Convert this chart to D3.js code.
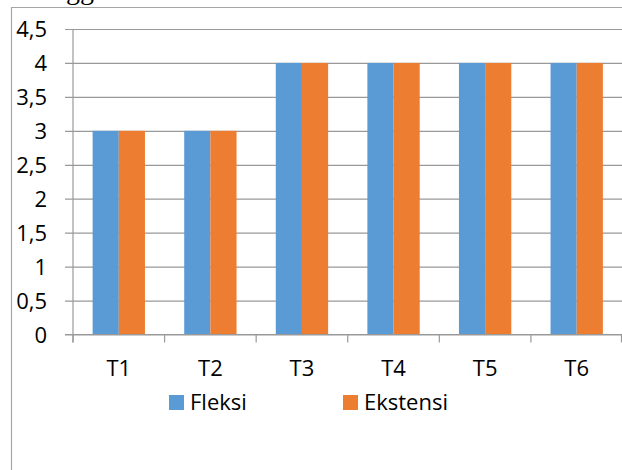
<!DOCTYPE html>
<html>
<head>
<meta charset="utf-8">
<script src="https://cdn.jsdelivr.net/npm/d3@7"></script>
<style>
  html, body { margin: 0; padding: 0; background: #fff; }
  svg { display: block; }
  text { font-family: "Open Sans", Lato, sans-serif; fill: #000; }
</style>
</head>
<body>
<svg id="chart" width="622" height="470"></svg>
<script>
// Chart data
const categories = ["T1", "T2", "T3", "T4", "T5", "T6"];
const seriesNames = ["Fleksi", "Ekstensi"];
const fleksi = [3, 3, 4, 4, 4, 4];
const ekstensi = [3, 3, 4, 4, 4, 4];
const yTicks = [0, 0.5, 1, 1.5, 2, 2.5, 3, 3.5, 4, 4.5];
const yTickLabels = ["0", "0,5", "1", "1,5", "2", "2,5", "3", "3,5", "4", "4,5"];
const colors = ["#5B9BD5", "#ED7D31"];

const svg = d3.select("#chart");
const W = 622, H = 470;
const plot = { left: 73, right: 622.5, top: 29, bottom: 334.5 };
const fontSize = "22px";

// Text running in from the surrounding page, above the chart frame
svg.append("text")
  .attr("x", 66).attr("y", -1)
  .style("font-family", "'Liberation Serif', 'DejaVu Serif', serif")
  .style("font-size", "28px")
  .text("gg");

// Chart frame (left and top edges visible)
svg.append("path")
  .attr("d", `M11.5,${H} L11.5,7.5 L${W},7.5`)
  .attr("fill", "none")
  .attr("stroke", "#a6a6a6")
  .attr("stroke-width", 1.2);

const x0 = d3.scaleBand().domain(categories).range([plot.left, plot.right]).paddingInner(0).paddingOuter(0);
const x1 = d3.scaleBand().domain(seriesNames).range([0, x0.bandwidth()]).paddingInner(0).paddingOuter(0.75);
const y = d3.scaleLinear().domain([0, 4.5]).range([plot.bottom, plot.top]);

// Horizontal gridlines with outward tick stubs
const yAxis = d3.axisLeft(y)
  .tickValues(yTicks)
  .tickSize(-(plot.right - plot.left))
  .tickFormat((d, i) => yTickLabels[i]);

const gy = svg.append("g")
  .attr("transform", `translate(${plot.left},0)`)
  .call(yAxis);
gy.select(".domain").remove();
gy.selectAll(".tick line")
  .attr("x1", -8)
  .attr("stroke", "#999")
  .attr("stroke-width", 1.2);
gy.selectAll(".tick text")
  .attr("x", -26)
  .style("font-size", fontSize)
  .attr("dy", "0.36em");

// Vertical axis line
svg.append("line")
  .attr("x1", plot.left).attr("x2", plot.left)
  .attr("y1", plot.top).attr("y2", plot.bottom + 8)
  .attr("stroke", "#999").attr("stroke-width", 1.2);

// Bars
const seriesData = [fleksi, ekstensi];
const groups = svg.append("g").selectAll("g")
  .data(categories)
  .join("g")
  .attr("transform", d => `translate(${x0(d)},0)`);

groups.selectAll("rect")
  .data((d, i) => seriesNames.map((s, j) => ({ s, v: seriesData[j][i], c: colors[j] })))
  .join("rect")
  .attr("x", d => x1(d.s))
  .attr("width", x1.bandwidth())
  .attr("y", d => y(d.v))
  .attr("height", d => y(0) - y(d.v))
  .attr("fill", d => d.c);

// Category axis: baseline, boundary ticks, labels
svg.append("line")
  .attr("x1", plot.left - 8).attr("x2", W)
  .attr("y1", y(0)).attr("y2", y(0))
  .attr("stroke", "#999").attr("stroke-width", 1.2);

const boundaries = categories.map(c => x0(c)).concat([plot.right - 1]);
svg.append("g").selectAll("line")
  .data(boundaries)
  .join("line")
  .attr("x1", d => d).attr("x2", d => d)
  .attr("y1", y(0)).attr("y2", y(0) + 8)
  .attr("stroke", "#999").attr("stroke-width", 1.2);

svg.append("g").selectAll("text")
  .data(categories)
  .join("text")
  .attr("x", d => x0(d) + x0.bandwidth() / 2)
  .attr("y", 368)
  .attr("dy", "0.36em")
  .attr("text-anchor", "middle")
  .style("font-size", fontSize)
  .text(d => d);

// Legend
const legendX = [169, 343];
const legend = svg.append("g").selectAll("g")
  .data(seriesNames)
  .join("g")
  .attr("transform", (d, i) => `translate(${legendX[i]},395)`);
legend.append("rect")
  .attr("width", 15).attr("height", 15)
  .attr("fill", (d, i) => colors[i]);
legend.append("text")
  .attr("x", 21).attr("y", 7.5)
  .attr("dy", "0.36em")
  .style("font-size", fontSize)
  .text(d => d);
</script>
</body>
</html>
